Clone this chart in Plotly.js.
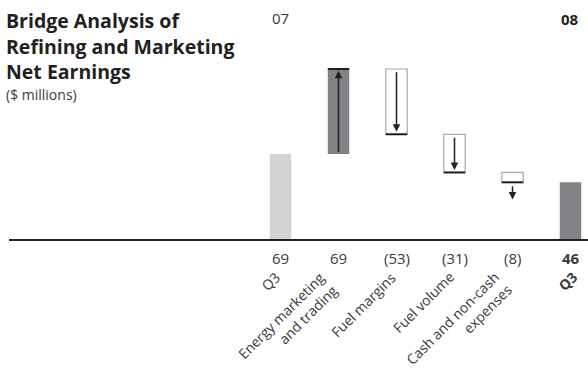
<!DOCTYPE html>
<html><head><meta charset="utf-8">
<script src="https://cdn.plot.ly/plotly-3.0.1.min.js"></script>
<style>html,body{margin:0;padding:0;background:#fff}#chart{width:588px;height:370px}</style>
</head><body><div id="chart"></div>
<script>
// ---- data ----
const categories = ["Q3", "Energy marketing<br>and trading", "Fuel margins", "Fuel volume", "Cash and non-cash<br>expenses", "<b>Q3</b>"];
const valueLabels = ["69", "69", "(53)", "(31)", "(8)", "<b>46</b>"];
const startTotal = 69;      // Q3 07
const changes = [69, -53, -31, -8];
const endTotal = 46;        // Q3 08
const yearLabels = ["07", "<b>08</b>"];
const titleLines = ["Bridge Analysis of", "Refining and Marketing", "Net Earnings"];
const unitLabel = "($ millions)";

// ---- build ----
const BW = 0.37;
const DARK = '#808285', LIGHT = '#d1d3d4', INK = '#231f20', OUT = '#a7a9ac', TXT = '#3a3a3c';
const xs = categories.map((_, i) => i);

const incX = [], incBase = [], incY = [], decX = [], decBase = [], decY = [];
const shapes = [], arrows = [];
let run = startTotal;
changes.forEach((c, k) => {
  const i = k + 1;
  const lo = Math.min(run, run + c), hi = Math.max(run, run + c);
  if (c >= 0) {
    incX.push(i); incBase.push(run); incY.push(c);
    shapes.push({type:'line', xref:'x', yref:'y', x0:i-BW/2, x1:i+BW/2, y0:hi, y1:hi, line:{color:INK, width:2}});
    arrows.push({x:i, y:hi-1.5, ax:i, ay:lo+0.5});
  } else {
    decX.push(i); decBase.push(run + c); decY.push(-c);
    shapes.push({type:'line', xref:'x', yref:'y', x0:i-BW/2, x1:i+BW/2, y0:lo, y1:lo, line:{color:INK, width:2}});
    if (-c >= 15) arrows.push({x:i, y:lo+2, ax:i, ay:hi-1.5});
    else arrows.push({x:i, y:lo-14, ax:i, ay:lo-2});
  }
  run += c;
});

const traces = [
  {type:'bar', x:[0, categories.length-1], y:[startTotal, endTotal], width:BW,
   marker:{color:[LIGHT, DARK], line:{width:0}}, hoverinfo:'skip'},
  {type:'bar', x:incX, base:incBase, y:incY, width:BW,
   marker:{color:DARK, line:{width:0}}, hoverinfo:'skip'},
  {type:'bar', x:decX, base:decBase, y:decY, width:BW,
   marker:{color:'#ffffff', line:{color:OUT, width:1.2}}, hoverinfo:'skip'}
];

const plotL = 9, plotTop = 40, plotBot = 239, W = 588, H = 370;
const pxPerCat = 58, firstCenter = 280.5;
const plotH = plotBot - plotTop;
const paperY = px => (plotBot - px) / plotH;
const paperX = px => (px - plotL) / (W - plotL);

const annotations = [];
arrows.forEach(a => annotations.push({
  x:a.x, y:a.y, ax:a.ax, ay:a.ay, xref:'x', yref:'y', axref:'x', ayref:'y',
  text:'', showarrow:true, arrowhead:2, arrowsize:1, arrowwidth:1.5, arrowcolor:INK
}));
valueLabels.forEach((t, i) => annotations.push({
  x:i, xref:'x', y:0, yref:'paper', yanchor:'middle', yshift:-19, text:t, showarrow:false,
  font:{family:'Open Sans', size:15, color:TXT}
}));
categories.forEach((t, i) => annotations.push({
  x:i, xref:'x', y:0, yref:'paper', xanchor:'right', yanchor:'top', align:'right',
  xshift:(i === categories.length-1 ? 13 : 6), yshift:-26, textangle:-45, text:t, showarrow:false,
  font:{family:'Open Sans', size:14, color:TXT}
}));
annotations.push({x:0, xref:'x', y:paperY(18), yref:'paper', yanchor:'middle', text:yearLabels[0], showarrow:false,
  font:{family:'Open Sans', size:15, color:TXT}});
annotations.push({x:categories.length-1, xref:'x', xshift:-1, y:paperY(19), yref:'paper', yanchor:'middle', text:yearLabels[1], showarrow:false,
  font:{family:'Open Sans', size:15, color:INK}});
titleLines.forEach((t, k) => annotations.push({
  x:paperX(4), xref:'paper', xanchor:'left', y:paperY(21 + 25.3*k), yref:'paper', yanchor:'middle', align:'left',
  text:'<b>' + t + '</b>', showarrow:false, font:{family:'Open Sans', size:19.5, color:INK}
}));
annotations.push({x:paperX(4), xref:'paper', xanchor:'left', y:paperY(94), yref:'paper', yanchor:'middle', align:'left',
  text:unitLabel, showarrow:false, font:{family:'Open Sans', size:14, color:TXT}});

const layout = {
  width:W, height:H, margin:{l:plotL, r:0, t:plotTop, b:H-plotBot, pad:0},
  paper_bgcolor:'#fff', plot_bgcolor:'#fff', showlegend:false, barmode:'overlay',
  xaxis:{type:'linear', range:[(plotL-firstCenter)/pxPerCat, (W-firstCenter)/pxPerCat],
    tickvals:xs, showticklabels:false, ticks:'', showgrid:false, zeroline:false,
    showline:true, linecolor:INK, linewidth:2, automargin:false},
  yaxis:{range:[0, plotH/1.232], showgrid:false, zeroline:false, showticklabels:false, showline:false, ticks:'', automargin:false},
  shapes:shapes, annotations:annotations
};
Plotly.newPlot('chart', traces, layout, {staticPlot:true, displayModeBar:false});
</script></body></html>
